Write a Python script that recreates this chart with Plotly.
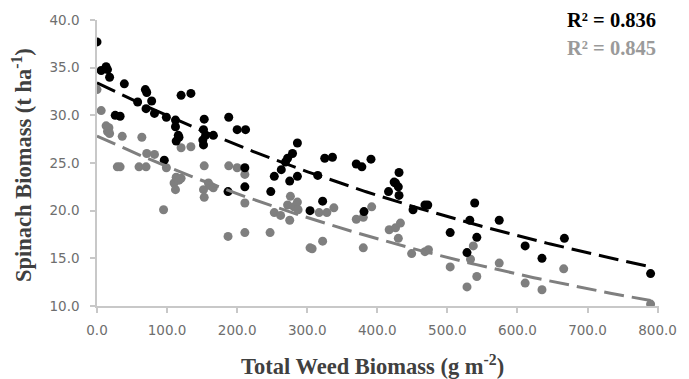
import numpy as np
import plotly.graph_objects as go

# Total weed biomass (g m-2) and spinach biomass (t ha-1), series 1 (black)
weed_a = [0, 6, 13, 15, 18, 26, 33, 39, 58, 69, 70, 71, 78, 82, 96, 99,
          112, 112, 113, 116, 117, 120, 134, 151, 152, 152, 153, 155, 166,
          187, 188, 200, 211, 211, 212, 248, 253, 263, 269, 272, 275, 279,
          286, 286, 304, 315, 322, 325, 336, 370, 378, 381, 391, 416, 424,
          426, 430, 431, 431, 451, 468, 472, 504, 528, 532, 539, 542, 574,
          611, 635, 667, 790]
spinach_a = [37.7, 34.7, 35.1, 34.8, 34.0, 30.0, 29.9, 33.3, 31.4, 32.7,
             30.7, 32.4, 31.5, 30.2, 25.3, 29.8, 29.5, 28.8, 27.3, 27.9,
             27.7, 32.1, 32.3, 27.4, 26.9, 28.5, 29.6, 27.9, 27.9, 22.0,
             29.8, 28.5, 24.5, 22.5, 28.5, 22.0, 23.6, 24.3, 25.1, 25.5,
             23.1, 26.0, 23.6, 27.1, 20.0, 23.7, 21.0, 25.5, 25.6, 24.9,
             24.6, 19.9, 25.4, 22.0, 23.0, 22.9, 22.5, 24.0, 21.6, 20.1,
             20.6, 20.6, 17.7, 15.6, 19.0, 20.8, 17.2, 19.0, 16.3, 15.0,
             17.1, 13.4]

# Series 2 (grey)
weed_b = [0, 6, 13, 15, 17, 18, 29, 33, 36, 60, 64, 70, 71, 82, 95, 99,
          110, 112, 113, 117, 120, 120, 134, 152, 153, 153, 159, 162, 166,
          187, 188, 200, 211, 211, 211, 247, 253, 262, 272, 275, 276, 281,
          286, 287, 304, 307, 317, 322, 328, 338, 370, 380, 380, 392, 417,
          426, 430, 433, 449, 468, 473, 504, 528, 533, 537, 542, 574, 611,
          635, 666, 790]
spinach_b = [32.7, 30.5, 28.9, 28.3, 28.7, 28.1, 24.6, 24.6, 27.8, 24.6,
             27.7, 24.6, 26.0, 25.9, 20.1, 24.5, 22.9, 22.2, 23.5, 23.2,
             23.4, 26.6, 26.7, 22.2, 21.4, 24.7, 22.9, 22.6, 22.4, 17.3,
             24.7, 24.5, 23.8, 20.8, 17.7, 17.7, 19.8, 19.5, 20.6, 19.0,
             21.5, 20.4, 20.9, 20.1, 16.1, 16.0, 19.8, 16.8, 19.8, 20.3,
             19.1, 19.3, 16.1, 20.4, 18.0, 18.2, 17.1, 18.7, 15.5, 15.7,
             15.9, 14.1, 12.0, 14.9, 16.3, 13.1, 14.5, 12.4, 11.7, 13.9,
             10.2]

r2_labels = ["R\u00b2 = 0.836", "R\u00b2 = 0.845"]

x_ticks = [0, 100, 200, 300, 400, 500, 600, 700, 800]
y_ticks = [10, 15, 20, 25, 30, 35, 40]

BLACK = "#000000"
GREY = "#7f7f7f"


def exp_fit(x, y):
    """Exponential trend y = a*exp(b*x) from a log-linear least squares fit."""
    b, ln_a = np.polyfit(np.asarray(x, float), np.log(np.asarray(y, float)), 1)
    xs = np.linspace(0, max(x), 200)
    return xs, np.exp(ln_a) * np.exp(b * xs)


fig = go.Figure()

fig.add_trace(go.Scatter(x=weed_b, y=spinach_b, mode="markers",
                         marker=dict(color=GREY, size=9, line=dict(width=0)),
                         showlegend=False))
fig.add_trace(go.Scatter(x=weed_a, y=spinach_a, mode="markers",
                         marker=dict(color=BLACK, size=9, line=dict(width=0)),
                         showlegend=False))

for x, y, col in [(weed_a, spinach_a, BLACK), (weed_b, spinach_b, GREY)]:
    xs, ys = exp_fit(x, y)
    fig.add_trace(go.Scatter(x=xs, y=ys, mode="lines",
                             line=dict(color=col, width=3, dash="20px,8px"),
                             showlegend=False, hoverinfo="skip"))

tick_font = dict(family="DejaVu Sans", size=13.5, color="#6e6e6e")
axis_col = "#c8c8c8"

fig.update_xaxes(range=[0, 802], tickvals=x_ticks,
                 ticktext=[f"{v:.1f}" for v in x_ticks],
                 showgrid=False, zeroline=False, showline=True,
                 linecolor=axis_col, linewidth=1.5, ticks="outside",
                 ticklen=5, tickcolor=axis_col, tickwidth=1.5,
                 tickfont=tick_font, ticklabelstandoff=6)
fig.update_yaxes(range=[10, 40], tickvals=y_ticks,
                 ticktext=[f"{v:.1f}" for v in y_ticks],
                 showgrid=False, zeroline=False, showline=True,
                 linecolor=axis_col, linewidth=1.5, ticks="outside",
                 ticklen=5, tickcolor=axis_col, tickwidth=1.5,
                 tickfont=tick_font, ticklabelstandoff=8)

title_font = dict(family="Liberation Serif", size=22.5, color="#404040",
                  weight="bold")

annotations = [
    dict(text="Total Weed Biomass (g m<sup>-2</sup>)", xref="paper",
         yref="paper", x=0.49, y=0, yshift=-59, xanchor="center",
         yanchor="middle", showarrow=False, font=title_font),
    dict(text="Spinach Biomass (t ha<sup>-1</sup>)", xref="paper",
         yref="paper", x=0, y=0.5, xshift=-75, yshift=-2, textangle=-90,
         xanchor="center", yanchor="middle", showarrow=False,
         font=title_font),
    dict(text=r2_labels[0], xref="paper", yref="paper", x=1, y=1,
         xanchor="right", yanchor="middle", xshift=-1, yshift=0,
         showarrow=False,
         font=dict(family="Liberation Serif", size=20.5, color="#000000",
                   weight="bold")),
    dict(text=r2_labels[1], xref="paper", yref="paper", x=1, y=1,
         xanchor="right", yanchor="middle", xshift=-1, yshift=-28,
         showarrow=False,
         font=dict(family="Liberation Serif", size=20.5, color="#9a9a9a",
                   weight="bold")),
]

fig.update_layout(width=689, height=379,
                  margin=dict(l=97, r=19, t=20, b=73),
                  plot_bgcolor="white", paper_bgcolor="white",
                  annotations=annotations)

fig.write_html("out.html")
